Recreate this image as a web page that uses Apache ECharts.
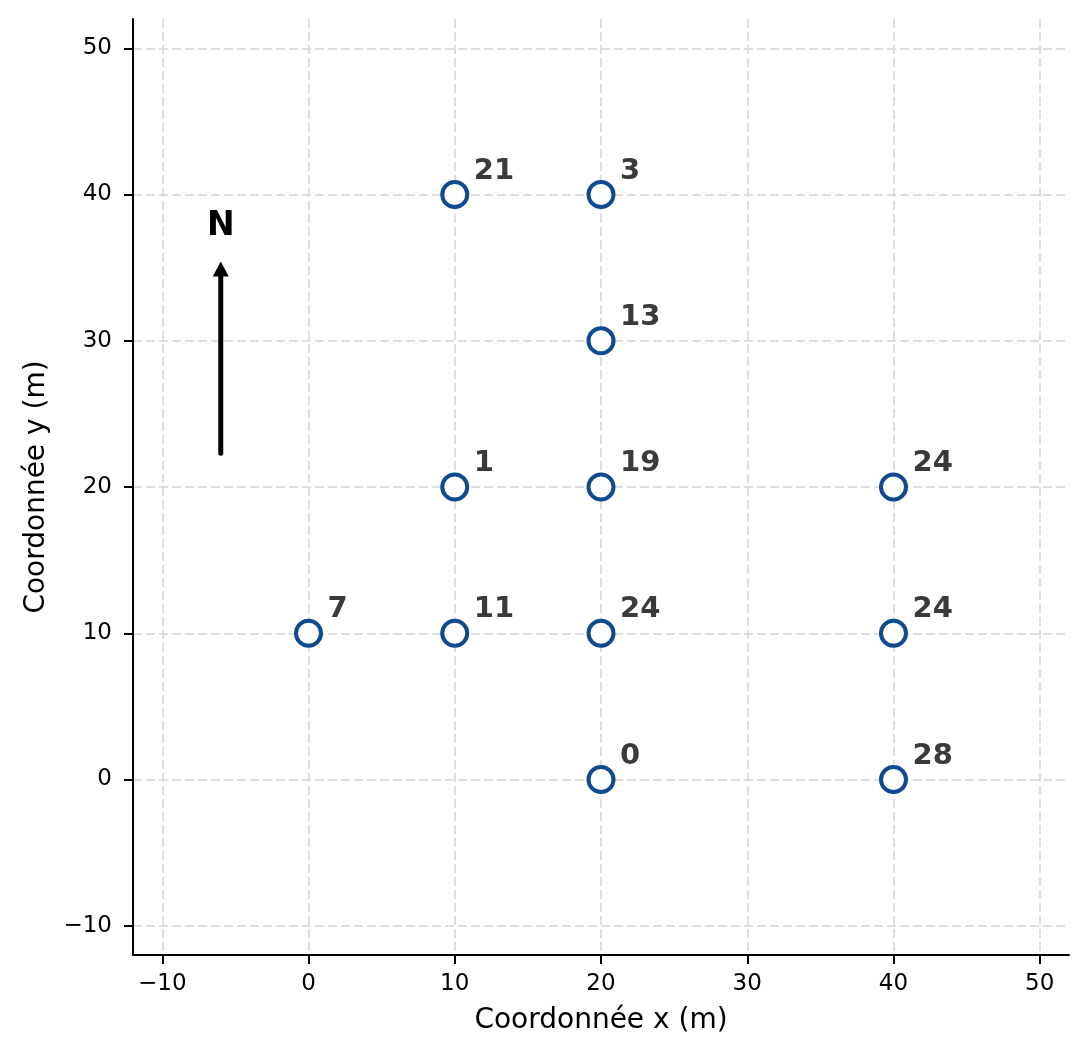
<!DOCTYPE html>
<html>
<head>
<meta charset="utf-8">
<script src="https://cdn.jsdelivr.net/npm/echarts@6/dist/echarts.min.js"></script>
<style>
html,body{margin:0;padding:0;background:#fff;}
#chart{width:1088px;height:1058px;}
</style>
</head>
<body>
<div id="chart"></div>
<script>
// Data
const xTicks = [-10, 0, 10, 20, 30, 40, 50];
const yTicks = [-10, 0, 10, 20, 30, 40, 50];
const pointX = [20, 10, 20, 10, 20, 40, 0, 10, 20, 40, 20, 40];
const pointY = [40, 40, 30, 20, 20, 20, 10, 10, 10, 10, 0, 0];
const pointLabels = ['3', '21', '13', '1', '19', '24', '7', '11', '24', '24', '0', '28'];
const arrowX = [-6, -6];
const arrowY = [22.3, 34.9];
const northX = [-6];
const northY = [37.8];
const northText = ['N'];
const xName = 'Coordonnée x (m)';
const yName = 'Coordonnée y (m)';

const FONT = 'DejaVu Sans';
const fmt = v => String(v).replace('-', '\u2212');

function axis(name, ticks, isX) {
  return {
    type: 'value',
    min: -12,
    max: 52,
    splitNumber: 6,
    name: name,
    nameLocation: 'middle',
    nameGap: isX ? 52 : 82,
    nameTextStyle: { fontSize: 28, color: '#000', fontFamily: FONT },
    axisLine: { show: true, onZero: false, lineStyle: { color: '#000', width: 2 } },
    axisTick: { show: true, inside: false, length: 9, customValues: ticks, lineStyle: { color: '#000', width: 2 } },
    axisLabel: { show: true, customValues: ticks, formatter: fmt, fontSize: 23, color: '#000', fontFamily: FONT, margin: isX ? 18 : 21 },
    splitLine: { show: true, showMinLine: true, showMaxLine: true, lineStyle: { color: '#d4d4d4', width: 1.5, type: [9, 4] } }
  };
}

const chart = echarts.init(document.getElementById('chart'), null, { renderer: 'canvas' });
chart.setOption({
  backgroundColor: '#fff',
  animation: false,
  grid: { left: 133, right: 19, top: 19, bottom: 103, containLabel: false },
  xAxis: axis(xName, xTicks, true),
  yAxis: axis(yName, yTicks, false),
  series: [
    {
      type: 'line',
      silent: true,
      z: 3,
      data: arrowX.map((x, i) => ({
        value: [x, arrowY[i]],
        symbol: i === arrowX.length - 1 ? 'triangle' : 'none',
        symbolSize: [16, 15]
      })),
      showSymbol: true,
      lineStyle: { color: '#000', width: 5, cap: 'round' },
      itemStyle: { color: '#000', borderWidth: 0 },
      label: { show: false }
    },
    {
      type: 'scatter',
      silent: true,
      z: 4,
      symbolSize: 1,
      itemStyle: { color: '#000', opacity: 0 },
      data: northX.map((x, i) => ({ value: [x, northY[i]], name: northText[i] })),
      label: {
        show: true,
        position: 'top',
        distance: 0,
        verticalAlign: 'middle',
        formatter: p => p.name,
        fontSize: 33,
        fontWeight: 'bold',
        color: '#000000',
        opacity: 1,
        textBorderWidth: 0,
        fontFamily: FONT
      }
    },
    {
      type: 'scatter',
      silent: true,
      z: 5,
      symbol: 'circle',
      symbolSize: 25,
      data: pointX.map((x, i) => ({ value: [x, pointY[i]], name: pointLabels[i] })),
      itemStyle: { color: '#fff', borderColor: '#0d4a8f', borderWidth: 4, opacity: 1 },
      label: {
        show: true,
        position: 'inside',
        align: 'left',
        verticalAlign: 'bottom',
        offset: [19, -9],
        formatter: p => p.name,
        fontSize: 29,
        fontWeight: 'bold',
        color: '#3a3a3a',
        textBorderWidth: 0,
        fontFamily: FONT
      }
    }
  ]
});
</script>
</body>
</html>
